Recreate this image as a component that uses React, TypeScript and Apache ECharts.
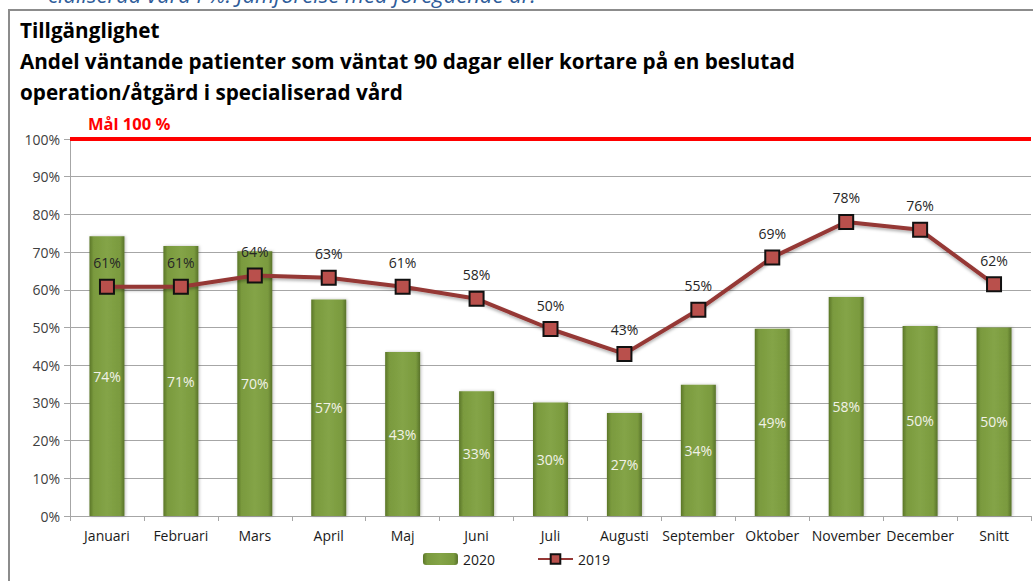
import React, { useEffect, useRef } from "react";
import * as echarts from "echarts";

const categories = ["Januari", "Februari", "Mars", "April", "Maj", "Juni", "Juli", "Augusti", "September", "Oktober", "November", "December", "Snitt"];
const values2020 = [74.2, 71.6, 70.2, 57.4, 43.5, 33.1, 30.1, 27.3, 34.8, 49.7, 58.1, 50.4, 50.0];
const values2019 = [60.8, 60.8, 63.8, 63.2, 60.8, 57.6, 49.6, 43.0, 54.7, 68.6, 78.0, 75.9, 61.5];
const yTicks = { min: 0, max: 100, interval: 10 };
const titleLines = ["Tillgänglighet", "Andel väntande patienter som väntat 90 dagar eller kortare på en beslutad", "operation/åtgärd i specialiserad vård"];
const goalLabel = "Mål 100 %";
const goalValue = 100;
const cutText = "cialiserad vård i %. Jämförelse med föregående år.";

const FONT = "'Open Sans', 'Noto Sans', sans-serif";

export default function App() {
  const ref = useRef<HTMLDivElement>(null);
  useEffect(() => {
    if (!ref.current) return;
    const chart = echarts.init(ref.current, null, { renderer: "svg" });
    const barGrad = new echarts.graphic.LinearGradient(0, 0, 1, 0, [
      { offset: 0, color: "#5b7628" },
      { offset: 0.12, color: "#7a9a3e" },
      { offset: 0.5, color: "#84a447" },
      { offset: 0.88, color: "#7a9a3e" },
      { offset: 1, color: "#58722a" },
    ]);
    chart.setOption({
      animation: false,
      backgroundColor: "#ffffff",
      textStyle: { fontFamily: FONT },
      grid: { left: 70, right: 2, top: 139, bottom: 65 },
      graphic: [
        {
          type: "text",
          left: 48,
          top: -17,
          style: { text: cutText, fill: "#2e5c9a", font: `italic 22px ${FONT}` },
        },
        {
          type: "rect",
          shape: { x: 9, y: 10, width: 1100, height: 700 },
          style: { fill: "none", stroke: "#8c8c8c", lineWidth: 2 },
          silent: true,
        },
        {
          type: "text",
          left: 20,
          top: 19,
          style: { text: titleLines[0], fill: "#000", font: `bold 20.7px ${FONT}` },
        },
        {
          type: "text",
          left: 20,
          top: 50,
          style: { text: titleLines[1], fill: "#000", font: `bold 20.7px ${FONT}` },
        },
        {
          type: "text",
          left: 20,
          top: 81,
          style: { text: titleLines[2], fill: "#000", font: `bold 20.7px ${FONT}` },
        },
        {
          type: "text",
          left: 88,
          top: 115,
          style: { text: goalLabel, fill: "#ff0000", font: `bold 16.5px ${FONT}` },
        },
      ],
      legend: {
        bottom: 10,
        left: "center",
        itemWidth: 35,
        itemHeight: 12,
        itemGap: 42,
        textStyle: { fontSize: 14, color: "#1a1a1a", fontFamily: FONT },
        data: ["2020", "2019"],
      },
      xAxis: {
        type: "category",
        data: categories,
        axisLine: { lineStyle: { color: "#a6a6a6", width: 1 } },
        axisTick: { show: true, alignWithLabel: false, length: 5, lineStyle: { color: "#a6a6a6" } },
        axisLabel: { color: "#1a1a1a", fontSize: 14, margin: 12, fontFamily: FONT, interval: 0 },
      },
      yAxis: {
        type: "value",
        min: yTicks.min,
        max: yTicks.max,
        interval: yTicks.interval,
        axisLine: { show: true, lineStyle: { color: "#a6a6a6" } },
        axisTick: { show: true, length: 6, lineStyle: { color: "#a6a6a6" } },
        axisLabel: { formatter: "{value}%", color: "#404040", fontSize: 14, margin: 10, fontFamily: FONT },
        splitLine: { lineStyle: { color: "#a6a6a6", width: 1 } },
      },
      series: [
        {
          name: "2020",
          type: "bar",
          data: values2020,
          barWidth: 35,
          itemStyle: {
            color: barGrad,
            shadowColor: "rgba(0,0,0,0.25)",
            shadowBlur: 3,
            shadowOffsetX: 1,
          },
          label: {
            show: true,
            position: "inside",
            color: "#f2f2e8",
            fontSize: 14,
            fontFamily: FONT,
            formatter: (p: any) => `${Math.floor(p.value)}%`,
          },
          markLine: {
            silent: true,
            symbol: "none",
            label: { show: false },
            lineStyle: { color: "#ff0000", width: 4, type: "solid" },
            data: [{ yAxis: goalValue }],
          },
          z: 2,
        },
        {
          name: "2019",
          type: "line",
          data: values2019,
          symbol: "rect",
          symbolSize: 14,
          lineStyle: {
            color: "#953735",
            width: 4,
            shadowColor: "rgba(0,0,0,0.3)",
            shadowBlur: 3,
            shadowOffsetY: 2,
          },
          itemStyle: {
            color: "#b9504c",
            borderColor: "#111",
            borderWidth: 2,
          },
          label: {
            show: true,
            position: "top",
            distance: 9,
            color: "#262626",
            fontSize: 14,
            fontFamily: FONT,
            formatter: (p: any) => `${Math.round(p.value)}%`,
          },
          z: 5,
        },
      ],
    });
    return () => chart.dispose();
  }, []);
  return <div ref={ref} style={{ position: "fixed", left: 0, top: 0, width: 1033, height: 581 }} />;
}
